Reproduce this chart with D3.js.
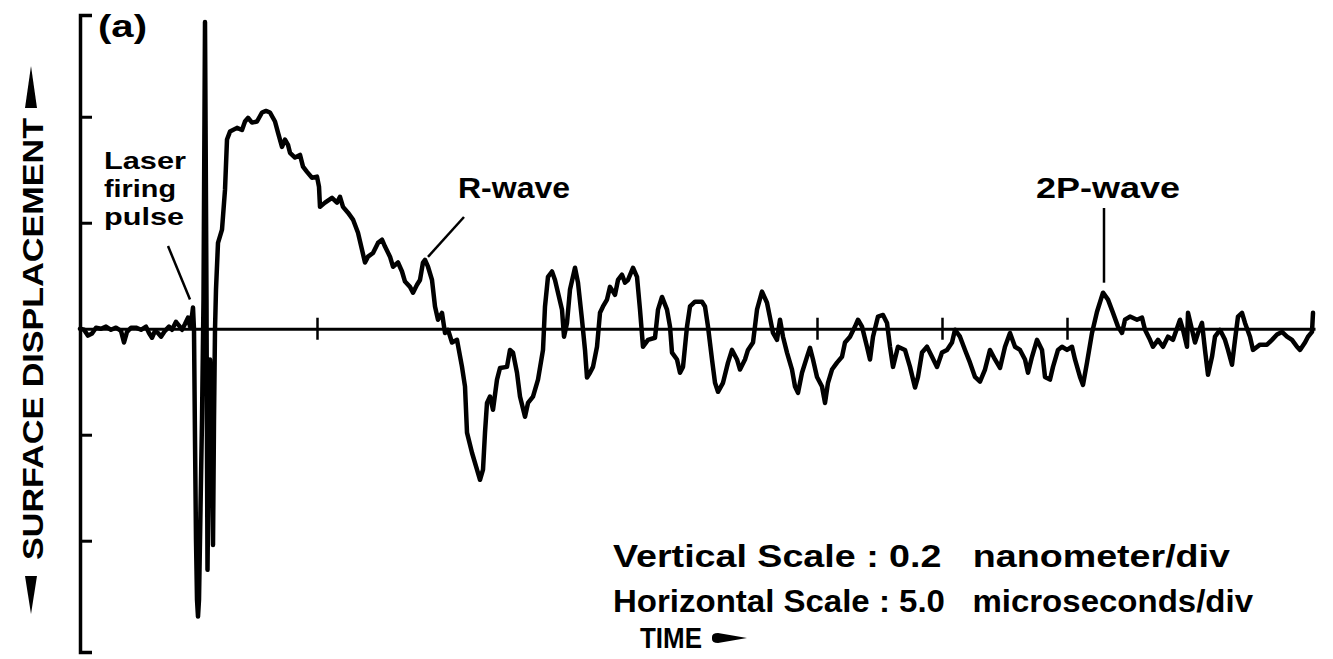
<!DOCTYPE html>
<html>
<head>
<meta charset="utf-8">
<script src="https://cdn.jsdelivr.net/npm/d3@7"></script>
<style>
  body { margin: 0; background: #fff; }
  svg { display: block; }
  text { font-family: "Liberation Sans", Arial, Helvetica, sans-serif; font-weight: bold; fill: #000; }
</style>
</head>
<body>
<svg id="chart" width="1333" height="659"></svg>
<script>
// Surface displacement record: time in microseconds (laser fires at t = 0), displacement in nanometres.
const time = [
  -4.48,-4.32,-4.16,-4.00,-3.84,-3.64,-3.44,-3.24,-3.04,-2.84,-2.72,-2.60,-2.44,-2.24,-2.04,-1.84,-1.72,-1.60,-1.48,-1.36,
  -1.24,-1.08,-0.92,-0.80,-0.64,-0.52,-0.40,-0.28,-0.16,-0.08,0.00,0.04,
  0.08,0.12,0.16,0.20,0.24,0.28,0.32,0.40,0.46,0.52,0.58,0.60,0.62,0.66,0.72,0.78,0.84,0.88,0.92,0.96,
  1.04,1.20,1.32,1.40,1.52,1.80,2.00,2.12,2.24,2.40,2.60,2.80,2.96,3.12,3.32,3.44,3.60,3.72,3.84,3.92,
  4.12,4.32,4.44,4.60,4.80,5.00,5.08,5.12,5.32,5.60,5.80,5.92,6.04,6.24,6.44,6.64,6.80,6.92,7.04,7.24,
  7.44,7.60,7.72,7.92,8.04,8.24,8.40,8.52,8.72,8.84,9.00,9.12,9.24,9.32,9.44,9.60,9.72,9.84,10.00,10.12,
  10.24,10.40,10.60,10.80,10.92,11.00,11.20,11.40,11.52,11.64,11.72,11.80,11.92,12.04,12.20,12.32,12.60,12.72,12.84,13.00,
  13.12,13.32,13.44,13.64,13.84,14.04,14.12,14.24,14.40,14.52,14.80,14.88,15.00,15.12,15.32,15.44,15.60,15.72,15.80,15.92,
  16.04,16.20,16.32,16.44,16.60,16.72,16.92,17.04,17.20,17.32,17.44,17.64,17.80,17.92,18.04,18.24,18.52,18.64,18.80,19.00,
  19.12,19.20,19.40,19.52,19.64,19.80,19.92,20.12,20.40,20.52,20.64,20.80,20.92,21.04,21.24,21.44,21.60,21.80,21.92,22.12,
  22.24,22.44,22.60,22.80,23.00,23.12,23.24,23.40,23.52,23.64,23.80,24.00,24.12,24.24,24.40,24.60,24.72,24.84,25.00,25.20,
  25.32,25.44,25.60,25.80,26.00,26.12,26.32,26.52,26.64,26.80,27.00,27.12,27.24,27.44,27.64,27.80,27.92,28.04,28.24,28.52,
  28.72,28.92,29.04,29.20,29.40,29.60,29.80,30.00,30.20,30.40,30.52,30.72,30.92,31.12,31.32,31.52,31.72,31.92,32.12,32.32,
  32.52,32.72,32.92,33.12,33.32,33.44,33.60,33.80,34.00,34.12,34.32,34.44,34.64,34.80,35.00,35.20,35.32,35.52,35.64,35.80,
  36.00,36.20,36.44,36.64,36.84,37.04,37.20,37.32,37.52,37.80,38.00,38.12,38.32,38.44,38.64,38.84,39.04,39.24,39.52,39.64,
  39.80,39.84,40.00,40.12,40.24,40.40,40.52,40.64,40.80,40.92,41.12,41.32,41.44,41.60,41.72,41.84,42.00,42.12,42.32,42.44,
  42.72,43.00,43.20,43.40,43.60,43.80,44.00,44.20,44.32,44.52,44.64,44.80,44.84
];
const displacement = [
  0.000,-0.002,-0.013,-0.009,0.002,0.000,0.004,-0.002,0.002,-0.004,-0.026,-0.006,0.002,0.002,-0.002,0.004,-0.008,-0.017,-0.004,-0.008,
  -0.015,-0.004,0.004,-0.002,0.013,0.006,-0.002,0.009,0.021,0.004,0.025,0.040,
  -0.002,-0.209,-0.398,-0.511,-0.543,-0.511,-0.398,-0.172,0.055,0.579,0.055,-0.228,-0.455,-0.266,-0.058,-0.115,-0.408,-0.172,-0.002,0.074,
  0.162,0.187,0.262,0.357,0.372,0.379,0.375,0.391,0.398,0.389,0.391,0.408,0.411,0.408,0.391,0.370,0.343,0.357,0.347,0.332,
  0.323,0.328,0.306,0.296,0.285,0.287,0.268,0.230,0.238,0.247,0.238,0.249,0.230,0.219,0.206,0.181,0.149,0.125,0.136,0.143,
  0.162,0.168,0.155,0.136,0.117,0.125,0.108,0.089,0.079,0.068,0.083,0.092,0.125,0.130,0.117,0.092,0.042,0.017,0.030,-0.008,
  -0.002,-0.026,-0.021,-0.072,-0.109,-0.196,-0.234,-0.266,-0.285,-0.266,-0.196,-0.140,-0.128,-0.153,-0.096,-0.074,-0.072,-0.040,-0.045,-0.083,
  -0.128,-0.166,-0.140,-0.128,-0.096,-0.040,0.042,0.098,0.108,0.092,0.036,-0.015,0.011,0.074,0.115,0.087,0.017,-0.040,-0.092,-0.083,
  -0.072,-0.034,0.030,0.042,0.055,0.079,0.064,0.092,0.102,0.087,0.092,0.115,0.098,0.036,-0.034,-0.021,-0.017,0.036,0.060,0.036,
  0.004,-0.045,-0.058,-0.083,-0.072,0.004,0.042,0.051,0.051,0.042,0.004,-0.058,-0.102,-0.119,-0.102,-0.064,-0.040,-0.058,-0.077,-0.058,
  -0.040,-0.026,0.036,0.070,0.049,0.021,-0.008,-0.021,0.017,-0.015,-0.045,-0.077,-0.109,-0.121,-0.083,-0.053,-0.036,-0.058,-0.091,-0.109,
  -0.140,-0.102,-0.077,-0.064,-0.053,-0.026,-0.015,0.004,0.017,0.004,-0.034,-0.058,-0.015,0.023,0.026,0.011,-0.034,-0.072,-0.034,-0.040,
  -0.072,-0.111,-0.091,-0.045,-0.034,-0.053,-0.072,-0.045,-0.040,-0.026,-0.002,-0.015,-0.040,-0.064,-0.091,-0.100,-0.077,-0.040,-0.058,-0.074,
  -0.034,-0.008,-0.034,-0.040,-0.058,-0.083,-0.053,-0.021,-0.040,-0.091,-0.096,-0.072,-0.040,-0.034,-0.040,-0.034,-0.058,-0.091,-0.106,-0.064,
  -0.008,0.032,0.068,0.055,0.030,0.004,-0.008,0.017,0.023,0.017,0.021,-0.002,-0.021,-0.034,-0.021,-0.034,-0.015,-0.021,0.017,-0.002,
  -0.034,0.030,-0.002,-0.026,-0.008,0.011,-0.040,-0.087,-0.053,-0.015,-0.002,-0.021,-0.040,-0.068,-0.021,0.023,0.030,0.011,-0.015,-0.040,
  -0.030,-0.030,-0.021,-0.011,-0.006,-0.015,-0.021,-0.034,-0.040,-0.026,-0.015,-0.006,0.030
];

// Axis divisions (0.2 nm vertical, 5 µs marks on the zero line)
const displacementTicks = [-0.4, -0.2, 0.2, 0.4];
const timeTicks = [5, 25, 30, 35];

// Text
const panelLabel = "(a)";
const yTitle = "SURFACE DISPLACEMENT";
const xTitle = "TIME";
const pulseLabel = ["Laser", "firing", "pulse"];
const rWave = { text: "R-wave", t: 9.32, v: 0.130 };
const pWave = { text: "2P-wave", t: 36.44, v: 0.068 };
const scaleNotes = ["Vertical Scale : 0.2\u00a0\u00a0 nanometer/div", "Horizontal Scale : 5.0\u00a0\u00a0 microseconds/div"];

const svg = d3.select("#chart");

const x = d3.scaleLinear().domain([-4.48, 44.92]).range([80, 1315]);
const y = d3.scaleLinear().domain([-0.61, 0.592]).range([652, 15]);

// Vertical axis: bracketed at both ends, ticks pointing into the plot
svg.append("g")
  .attr("transform", `translate(${x(-4.48)},0)`)
  .call(d3.axisRight(y).tickValues(displacementTicks).tickSize(12).tickSizeOuter(12).tickFormat(""))
  .call(g => g.select(".domain").attr("stroke", "#000").attr("stroke-width", 3.5).attr("fill", "none"))
  .call(g => g.selectAll(".tick line").attr("stroke", "#000").attr("stroke-width", 3));

// Zero line with time marks crossing it
svg.append("g")
  .attr("transform", `translate(0,${y(0)})`)
  .call(d3.axisBottom(x).tickValues(timeTicks).tickSize(11).tickSizeOuter(0).tickFormat(""))
  .call(g => g.select(".domain").attr("stroke", "#000").attr("stroke-width", 3))
  .call(g => g.selectAll(".tick line").attr("y1", -11).attr("stroke", "#000").attr("stroke-width", 2.5));

// Waveform
const line = d3.line()
  .x((d, i) => x(time[i]))
  .y(d => y(d));

svg.append("path")
  .datum(displacement)
  .attr("d", line)
  .attr("fill", "none")
  .attr("stroke", "#000")
  .attr("stroke-width", 4.5)
  .attr("stroke-linejoin", "round")
  .attr("stroke-linecap", "round");

// Panel label
svg.append("text").attr("x", 98).attr("y", 37)
  .attr("font-size", 31).attr("textLength", 49).attr("lengthAdjust", "spacingAndGlyphs")
  .text(panelLabel);

// Laser firing pulse label (three stacked lines) and pointer
const pulseWidths = [82, 72, 80];
const pulseText = svg.append("text").attr("font-size", 24);
pulseLabel.forEach((s, i) => {
  pulseText.append("tspan").attr("x", 104).attr("y", 169 + i * 28)
    .attr("textLength", pulseWidths[i]).attr("lengthAdjust", "spacingAndGlyphs")
    .text(s);
});
svg.append("line")
  .attr("x1", 168).attr("y1", 246)
  .attr("x2", x(-0.08)).attr("y2", y(0.04) - 8)
  .attr("stroke", "#000").attr("stroke-width", 2.5);

// R-wave label and pointer
svg.append("text").attr("x", 458).attr("y", 198)
  .attr("font-size", 29).attr("textLength", 112).attr("lengthAdjust", "spacingAndGlyphs")
  .text(rWave.text);
svg.append("line")
  .attr("x1", 464).attr("y1", 217)
  .attr("x2", x(rWave.t) + 3).attr("y2", y(rWave.v) - 3)
  .attr("stroke", "#000").attr("stroke-width", 2.5);

// 2P-wave label and pointer
svg.append("text").attr("x", 1036).attr("y", 198)
  .attr("font-size", 29).attr("textLength", 144).attr("lengthAdjust", "spacingAndGlyphs")
  .text(pWave.text);
svg.append("line")
  .attr("x1", x(pWave.t) + 1).attr("y1", 208)
  .attr("x2", x(pWave.t) + 1).attr("y2", y(pWave.v) - 10)
  .attr("stroke", "#000").attr("stroke-width", 2.5);

// Scale notes
const noteWidths = [617, 640];
scaleNotes.forEach((s, i) => {
  svg.append("text").attr("x", 613).attr("y", 567 + i * 45)
    .attr("font-size", 31).attr("textLength", noteWidths[i]).attr("lengthAdjust", "spacingAndGlyphs")
    .text(s);
});

// Axis titles with direction arrows
svg.append("text")
  .attr("transform", "translate(43,339) rotate(-90)")
  .attr("text-anchor", "middle")
  .attr("font-size", 30).attr("textLength", 442).attr("lengthAdjust", "spacingAndGlyphs")
  .text(yTitle);
svg.append("path").attr("d", "M31,66 L37,108 L25,108 Z").attr("fill", "#000");
svg.append("path").attr("d", "M31,614 L37,576 L25,576 Z").attr("fill", "#000");

svg.append("text").attr("x", 640).attr("y", 648)
  .attr("font-size", 29).attr("textLength", 62).attr("lengthAdjust", "spacingAndGlyphs")
  .text(xTitle);
svg.append("path").attr("d", "M712,637 Q712,633 718,633 L747,638 L718,643 Q712,643 712,639 Z").attr("fill", "#000");
</script>
</body>
</html>
